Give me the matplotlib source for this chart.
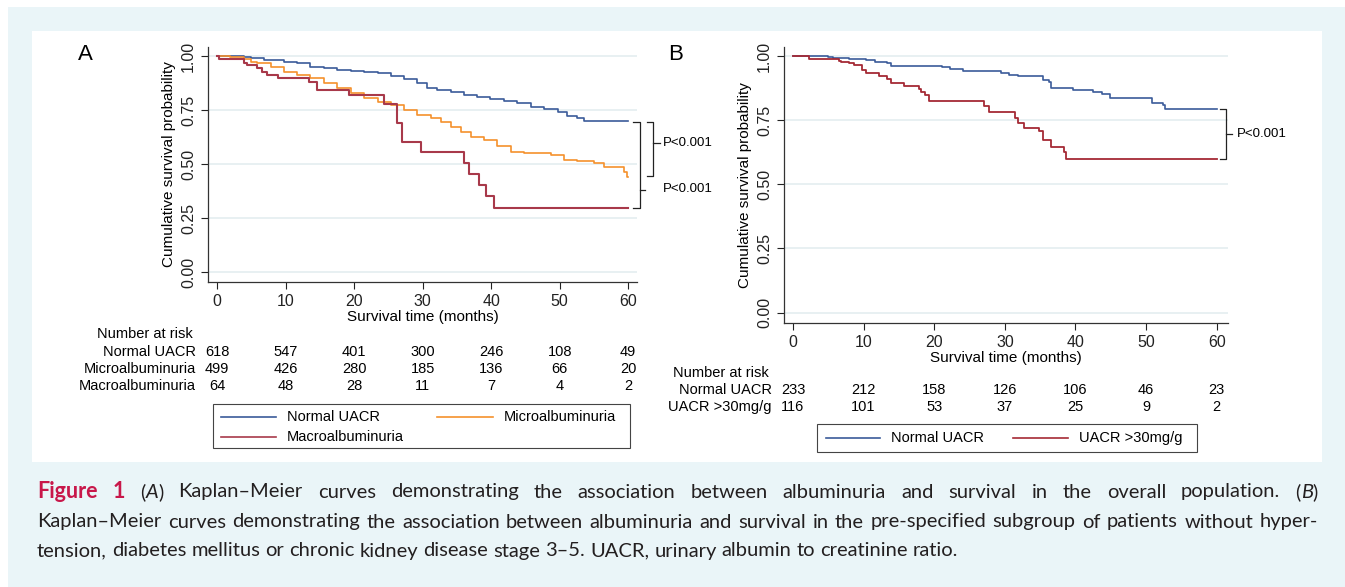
import numpy as np
import matplotlib
matplotlib.use("Agg")
import matplotlib.pyplot as plt
from matplotlib.patches import Rectangle

# ---- data ----
# panel A: overall population
a_normal_t = [0, 3.9, 4.9, 6.8, 9.7, 11.7, 13.6, 15.6, 17.5, 19.5, 21.4, 23.4, 25.3, 27.3,
              29.2, 30.7, 32.1, 34.1, 36.0, 38.0, 39.9, 41.9, 43.8, 45.8, 47.7, 49.7, 51.1,
              52.6, 53.6, 60.0]
a_normal_s = [1.0, 0.997, 0.989, 0.982, 0.974, 0.966, 0.951, 0.943, 0.935, 0.931, 0.925, 0.920,
              0.908, 0.892, 0.874, 0.851, 0.843, 0.835, 0.820, 0.812, 0.802, 0.792, 0.782,
              0.766, 0.754, 0.743, 0.723, 0.712, 0.702, 0.702]
a_micro_t = [0, 1.9, 3.9, 4.9, 5.8, 7.8, 9.7, 11.7, 13.6, 15.6, 17.5, 19.5, 21.4, 23.4, 25.3,
             27.3, 29.2, 31.2, 32.6, 34.1, 35.6, 37.0, 39.0, 40.9, 42.9, 44.8, 46.8, 48.7,
             50.7, 52.6, 55.0, 56.5, 58.9, 59.4, 59.9, 60.0]
a_micro_s = [1.0, 0.994, 0.985, 0.974, 0.966, 0.948, 0.928, 0.912, 0.897, 0.874, 0.851, 0.828,
             0.805, 0.789, 0.774, 0.751, 0.728, 0.712, 0.697, 0.674, 0.651, 0.628, 0.612,
             0.585, 0.558, 0.554, 0.551, 0.543, 0.520, 0.515, 0.505, 0.489, 0.486, 0.466,
             0.443, 0.443]
a_macro_t = [0, 0.3, 3.9, 4.4, 5.8, 6.6, 7.3, 8.8, 13.4, 14.6, 19.2, 24.4, 26.3, 27.0, 29.7,
             36.0, 36.7, 38.2, 39.2, 40.4, 60.0]
a_macro_s = [1.0, 0.985, 0.970, 0.958, 0.943, 0.928, 0.912, 0.897, 0.882, 0.843, 0.820, 0.778,
             0.689, 0.605, 0.558, 0.505, 0.455, 0.405, 0.355, 0.297, 0.297]

# panel B: subgroup without HT, DM or CKD 3-5
b_normal_t = [0, 5.0, 5.6, 8.0, 10.4, 11.6, 13.3, 13.9, 19.3, 21.1, 22.3, 24.1, 28.8, 29.4,
              30.6, 31.8, 34.8, 35.4, 36.3, 36.6, 39.6, 42.5, 43.7, 44.9, 50.3, 50.9, 52.4,
              52.7, 60.0]
b_normal_s = [1.0, 0.996, 0.993, 0.990, 0.987, 0.980, 0.974, 0.963, 0.963, 0.957, 0.950, 0.944,
              0.944, 0.935, 0.926, 0.922, 0.922, 0.909, 0.902, 0.876, 0.870, 0.863, 0.854,
              0.837, 0.837, 0.818, 0.811, 0.795, 0.795]
b_high_t = [0, 2.3, 6.5, 6.8, 8.0, 8.6, 9.8, 10.4, 12.2, 13.3, 13.9, 15.7, 17.8, 18.1, 18.7,
            19.3, 27.1, 27.7, 31.5, 31.8, 32.7, 34.8, 35.4, 36.6, 38.4, 38.7, 60.0]
b_high_s = [1.0, 0.991, 0.984, 0.978, 0.974, 0.967, 0.948, 0.935, 0.922, 0.913, 0.898, 0.885,
            0.874, 0.863, 0.850, 0.828, 0.807, 0.785, 0.759, 0.739, 0.720, 0.707, 0.674,
            0.648, 0.628, 0.600, 0.600]

risk_times = [0, 10, 20, 30, 40, 50, 60]
a_risk_labels = ["Normal UACR", "Microalbuminuria", "Macroalbuminuria"]
a_risk = [[618, 547, 401, 300, 246, 108, 49],
          [499, 426, 280, 185, 136, 66, 20],
          [64, 48, 28, 11, 7, 4, 2]]
b_risk_labels = ["Normal UACR", "UACR >30mg/g"]
b_risk = [[233, 212, 158, 126, 106, 46, 23],
          [116, 101, 53, 37, 25, 9, 2]]

BLUE = "#3b5b9a"
ORANGE = "#f5912c"
RED_A = "#a8394a"
RED_B = "#a52a35"
GRID = "#e4eef0"

W, H = 1345, 587
plt.rcParams["font.family"] = ["Liberation Sans", "DejaVu Sans"]

fig = plt.figure(figsize=(W / 100, H / 100), dpi=100)
fig.patch.set_facecolor("#eaf5f8")


def px_rect(x0, y0, x1, y1):
    return [x0 / W, 1 - y1 / H, (x1 - x0) / W, (y1 - y0) / H]


def fx(x):
    return x / W


def fy(y):
    return 1 - y / H


# white top/left margin and white figure panel
fig.patches.append(Rectangle((0, fy(7)), 1, 7 / H, transform=fig.transFigure,
                             facecolor="white", edgecolor="none", zorder=-5))
fig.patches.append(Rectangle((0, 0), 8 / W, 1, transform=fig.transFigure,
                             facecolor="white", edgecolor="none", zorder=-5))
fig.patches.append(Rectangle((fx(32), fy(462)), (1322 - 32) / W, (462 - 31) / H,
                             transform=fig.transFigure, facecolor="white",
                             edgecolor="none", zorder=-4))


def km_axes(rect, xlim, ylim):
    ax = fig.add_axes(rect)
    ax.set_facecolor("none")
    ax.set_xlim(*xlim)
    ax.set_ylim(*ylim)
    for s in ["top", "right"]:
        ax.spines[s].set_visible(False)
    for s in ["left", "bottom"]:
        ax.spines[s].set_color("#333333")
        ax.spines[s].set_linewidth(0.9)
    ax.set_xticks(risk_times)
    ax.set_yticks([0, 0.25, 0.5, 0.75, 1.0])
    ax.set_yticklabels(["0.00", "0.25", "0.50", "0.75", "1.00"], rotation=90, va="center")
    ax.tick_params(direction="out", length=5, width=0.8, labelsize=11.5, colors="#222222")
    ax.yaxis.grid(True, color=GRID, lw=1.2)
    ax.set_axisbelow(True)
    ax.set_ylabel("Cumulative survival probability", fontsize=11, labelpad=4)
    ax.set_xlabel("Survival time (months)", fontsize=11, labelpad=1)
    return ax


def bracket(ax, x_serif, x_line, y_top, y_bot, x_nub, y_nub):
    kw = dict(color="#222222", lw=0.9, clip_on=False)
    ax.plot([x_serif, x_line, x_line, x_serif], [y_top, y_top, y_bot, y_bot], **kw)
    ax.plot([x_line, x_nub], [y_nub, y_nub], **kw)


# ---- panel A ----
axA = km_axes(px_rect(208, 47, 637, 282), (-1.36, 61.3), (-0.044, 1.042))
axA.plot(a_normal_t, a_normal_s, drawstyle="steps-post", color=BLUE, lw=1.2)
axA.plot(a_micro_t, a_micro_s, drawstyle="steps-post", color=ORANGE, lw=1.2)
axA.plot(a_macro_t, a_macro_s, drawstyle="steps-post", color=RED_A, lw=1.5)
bracket(axA, 62.77, 63.65, 0.697, 0.446, 64.67, 0.599)
bracket(axA, 60.73, 61.75, 0.697, 0.297, 62.48, 0.382)
axA.text(65.1, 0.599, "P<0.001", fontsize=9.5, va="center", ha="left")
axA.text(65.1, 0.386, "P<0.001", fontsize=9.5, va="center", ha="left")
fig.text(fx(85), fy(55), "A", fontsize=16, ha="center", va="center")

# ---- panel B ----
axB = km_axes(px_rect(784, 47, 1228, 323), (-1.27, 61.6), (-0.041, 1.037))
axB.plot(b_normal_t, b_normal_s, drawstyle="steps-post", color=BLUE, lw=1.2)
axB.plot(b_high_t, b_high_s, drawstyle="steps-post", color=RED_B, lw=1.3)
bracket(axB, 60.4, 61.3, 0.795, 0.600, 62.1, 0.697)
axB.text(62.8, 0.697, "P<0.001", fontsize=9.5, va="center", ha="left")
fig.text(fx(676), fy(55), "B", fontsize=16, ha="center", va="center")


# ---- risk tables (x positions follow the panel's time axis) ----
def risk_table(ax, labels, counts, y_head, y_rows, label_right, head_left):
    fig.text(fx(head_left), fy(y_head), "Number at risk", fontsize=10.5, va="center")
    to_fig = ax.transData + fig.transFigure.inverted()
    for lab, row, yy in zip(labels, counts, y_rows):
        fig.text(fx(label_right), fy(yy), lab, fontsize=10.5, va="center", ha="right")
        for t, n in zip(risk_times, row):
            xf = to_fig.transform((t, 0))[0]
            fig.text(xf, fy(yy), str(n), fontsize=10.5, va="center", ha="center")


risk_table(axA, a_risk_labels, a_risk, 334, [352, 369, 386], 196, 97)
risk_table(axB, b_risk_labels, b_risk, 373, [390, 407], 772, 673)


# ---- legends drawn as boxed keys ----
def legend_box(x0, y0, x1, y1, entries):
    fig.patches.append(Rectangle((fx(x0), fy(y1)), (x1 - x0) / W, (y1 - y0) / H,
                                 transform=fig.transFigure, facecolor="white",
                                 edgecolor="#444444", lw=0.8))
    for lx0, lx1, yy, col, lab in entries:
        fig.lines.append(plt.Line2D([fx(lx0), fx(lx1)], [fy(yy), fy(yy)], color=col,
                                    lw=1.2, transform=fig.transFigure))
        fig.text(fx(lx1 + 11), fy(yy), lab, fontsize=10.5, va="center", ha="left")


legend_box(213, 404, 630, 448, [(221, 276, 417, BLUE, "Normal UACR"),
                                (437, 493, 417, ORANGE, "Microalbuminuria"),
                                (221, 276, 437, RED_A, "Macroalbuminuria")])
legend_box(817, 424, 1197, 452, [(826, 880, 438, BLUE, "Normal UACR"),
                                 (1013, 1068, 438, RED_B, "UACR >30mg/g")])

# ---- caption, justified like the journal layout ----
renderer = fig.canvas.get_renderer()
left, right = 37, 1318


def run_width(s, kw):
    t = fig.text(0, 0, s, **kw)
    w = t.get_window_extent(renderer).width
    t.remove()
    return w


def build_lines(cap, bold, ital):
    def word(s, kw):
        return [(s, kw)]

    def plain(line):
        return [word(w, cap) for w in line.split()]

    return [
        [word("Figure", bold), word("1", bold), [("(", cap), ("A", ital), (")", cap)]]
        + plain("Kaplan–Meier curves demonstrating the association between albuminuria and "
                "survival in the overall population.")
        + [[("(", cap), ("B", ital), (")", cap)]],
        plain("Kaplan–Meier curves demonstrating the association between albuminuria and "
              "survival in the pre-specified subgroup of patients without hyper-"),
        plain("tension, diabetes mellitus or chronic kidney disease stage 3–5. UACR, urinary "
              "albumin to creatinine ratio."),
    ]


# pick the largest size whose longest line still fits with normal spacing
size = 14.5
while True:
    CAP = dict(fontsize=size, family=["Lato", "DejaVu Sans"], color="#231f20")
    BOLD = dict(CAP, fontweight="bold", color="#c8174a", fontsize=size + 1)
    ITAL = dict(CAP, style="italic")
    space = run_width("a a", CAP) - 2 * run_width("a", CAP)
    cap_lines = build_lines(CAP, BOLD, ITAL)
    widths_all = [[sum(run_width(s, kw) for s, kw in w) for w in words] for words in cap_lines]
    need = max(sum(ws) + 0.8 * space * (len(ws) - 1) for ws in widths_all)
    if need <= right - left or size < 11:
        break
    size -= 0.2

cap_y = [492, 522, 551]
for i, (words, widths, yy) in enumerate(zip(cap_lines, widths_all, cap_y)):
    if i < 2:
        gap = (right - left - sum(widths)) / (len(words) - 1)
    else:
        gap = space
    x = left
    for w, wd in zip(words, widths):
        xx = x
        for s, kw in w:
            fig.text(fx(xx), fy(yy), s, va="center", ha="left", **kw)
            xx += run_width(s, kw)
        x += wd + gap

fig.savefig("out.png", dpi=100, facecolor=fig.get_facecolor())
